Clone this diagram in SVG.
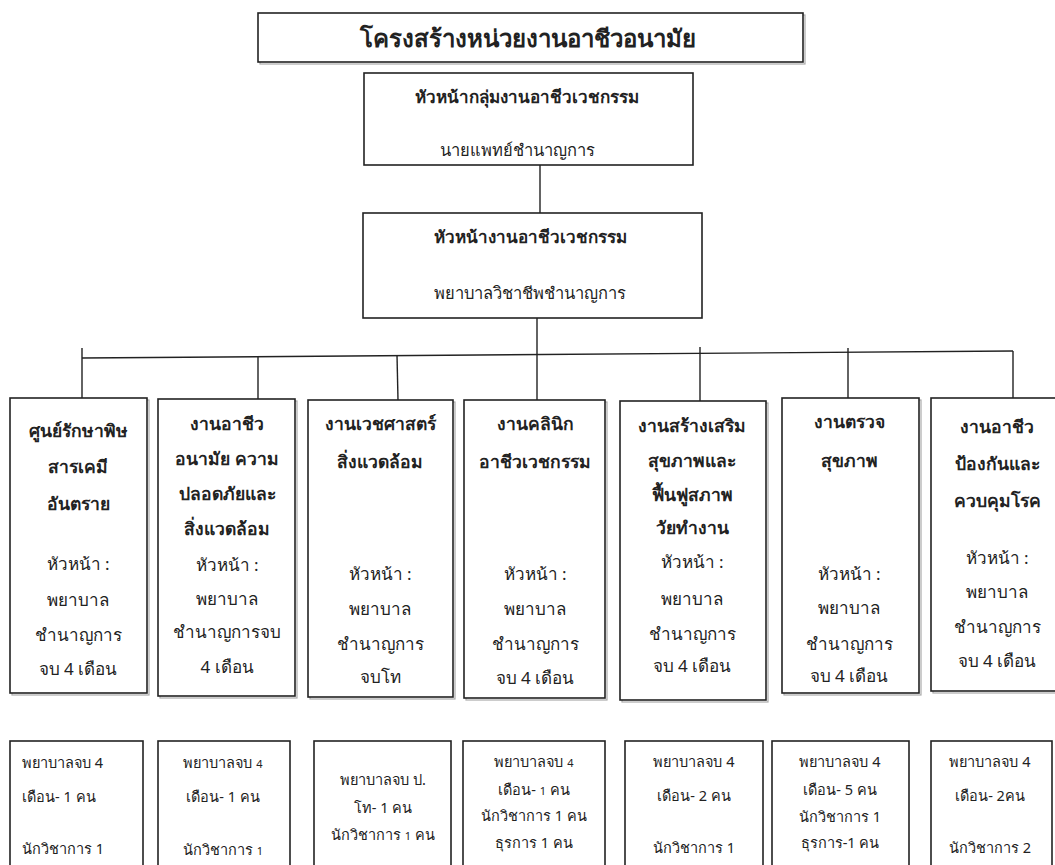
<svg xmlns="http://www.w3.org/2000/svg" width="1055" height="865" viewBox="0 0 1055 865">
<style>
.box{fill:#fff;stroke:#222;stroke-width:1.6}
.sh{fill:none;stroke:#aaa;stroke-width:1.2}
.ln{stroke:#222;stroke-width:1.4;fill:none}
text{font-family:"Noto Sans","DejaVu Sans","Liberation Sans",sans-serif;fill:#222;text-anchor:middle}
.t0{font-size:24px;font-weight:bold}
.hb{font-size:17px;font-weight:bold}
.hn{font-size:16.5px}
.cb{font-size:17.5px;font-weight:bold}
.cn{font-size:17px}
.s{font-size:14.5px}
.l{text-anchor:start}
.sm{font-size:11px}
</style>
<rect width="1055" height="865" fill="#fff"/>
<g id="connectors">
<line class="ln" x1="540" y1="165" x2="540" y2="213"/>
<line class="ln" x1="537" y1="318" x2="537" y2="354"/>
<line class="ln" x1="82" y1="358" x2="1013" y2="351"/>
<line class="ln" x1="82" y1="348" x2="82" y2="398"/>
<line class="ln" x1="258" y1="357" x2="258" y2="399"/>
<line class="ln" x1="397" y1="355" x2="398" y2="400"/>
<line class="ln" x1="537" y1="354" x2="537" y2="400"/>
<line class="ln" x1="700" y1="347" x2="700" y2="401"/>
<line class="ln" x1="848" y1="348" x2="848" y2="398"/>
<line class="ln" x1="1013" y1="351" x2="1013" y2="398"/>
</g>
<g id="title">
<rect class="sh" x="260" y="15" width="545" height="49"/>
<rect class="box" x="258" y="13" width="545" height="49" stroke-width="2"/>
<text class="t0" x="528" y="47">โครงสร้างหน่วยงานอาชีวอนามัย</text>
</g>
<g id="head-group">
<rect class="box" x="364" y="73" width="329" height="92"/>
<text class="hb" x="527" y="103">หัวหน้ากลุ่มงานอาชีวเวชกรรม</text>
<text class="hn" x="517" y="156">นายแพทย์ชำนาญการ</text>
</g>
<g id="head-unit">
<rect class="box" x="363" y="213" width="339" height="105"/>
<text class="hb" x="530" y="243">หัวหน้างานอาชีวเวชกรรม</text>
<text class="hn" x="530" y="299">พยาบาลวิชาชีพชำนาญการ</text>
</g>
<g id="col1">
<rect class="sh" x="12" y="400" width="137" height="295"/>
<rect class="box" x="10" y="398" width="137" height="295"/>
<text class="cb" x="78" y="437">ศูนย์รักษาพิษ</text>
<text class="cb" x="78" y="473">สารเคมี</text>
<text class="cb" x="78" y="510">อันตราย</text>
<text class="cn" x="78" y="570">หัวหน้า :</text>
<text class="cn" x="78" y="606">พยาบาล</text>
<text class="cn" x="78" y="641">ชำนาญการ</text>
<text class="cn" x="78" y="675">จบ 4 เดือน</text>
</g>
<g id="col2">
<rect class="sh" x="160" y="401" width="137" height="297"/>
<rect class="box" x="158" y="399" width="137" height="297"/>
<text class="cb" x="227" y="430">งานอาชีว</text>
<text class="cb" x="227" y="465">อนามัย ความ</text>
<text class="cb" x="227" y="500">ปลอดภัยและ</text>
<text class="cb" x="227" y="535">สิ่งแวดล้อม</text>
<text class="cn" x="227" y="571">หัวหน้า :</text>
<text class="cn" x="227" y="605">พยาบาล</text>
<text class="cn" x="227" y="638">ชำนาญการจบ</text>
<text class="cn" x="227" y="673">4 เดือน</text>
</g>
<g id="col3">
<rect class="sh" x="310" y="402" width="145" height="297"/>
<rect class="box" x="308" y="400" width="145" height="297"/>
<text class="cb" x="380" y="430">งานเวชศาสตร์</text>
<text class="cb" x="380" y="468">สิ่งแวดล้อม</text>
<text class="cn" x="380" y="580">หัวหน้า :</text>
<text class="cn" x="380" y="615">พยาบาล</text>
<text class="cn" x="380" y="650">ชำนาญการ</text>
<text class="cn" x="380" y="683">จบโท</text>
</g>
<g id="col4">
<rect class="sh" x="466" y="402" width="141" height="298"/>
<rect class="box" x="464" y="400" width="141" height="298"/>
<text class="cb" x="535" y="430">งานคลินิก</text>
<text class="cb" x="535" y="468">อาชีวเวชกรรม</text>
<text class="cn" x="535" y="580">หัวหน้า :</text>
<text class="cn" x="535" y="615">พยาบาล</text>
<text class="cn" x="535" y="650">ชำนาญการ</text>
<text class="cn" x="535" y="684">จบ 4 เดือน</text>
</g>
<g id="col5">
<rect class="sh" x="622" y="403" width="146" height="299"/>
<rect class="box" x="620" y="401" width="146" height="299"/>
<text class="cb" x="692" y="432">งานสร้างเสริม</text>
<text class="cb" x="692" y="467">สุขภาพและ</text>
<text class="cb" x="692" y="501">ฟื้นฟูสภาพ</text>
<text class="cb" x="692" y="534">วัยทำงาน</text>
<text class="cn" x="692" y="568">หัวหน้า :</text>
<text class="cn" x="692" y="605">พยาบาล</text>
<text class="cn" x="692" y="640">ชำนาญการ</text>
<text class="cn" x="692" y="672">จบ 4 เดือน</text>
</g>
<g id="col6">
<rect class="sh" x="784" y="400" width="137" height="295"/>
<rect class="box" x="782" y="398" width="137" height="295"/>
<text class="cb" x="849" y="428">งานตรวจ</text>
<text class="cb" x="849" y="467">สุขภาพ</text>
<text class="cn" x="849" y="580">หัวหน้า :</text>
<text class="cn" x="849" y="614">พยาบาล</text>
<text class="cn" x="849" y="650">ชำนาญการ</text>
<text class="cn" x="849" y="682">จบ 4 เดือน</text>
</g>
<g id="col7">
<rect class="sh" x="933" y="400" width="130" height="293"/>
<rect class="box" x="931" y="398" width="130" height="293"/>
<text class="cb" x="997" y="433">งานอาชีว</text>
<text class="cb" x="997" y="470">ป้องกันและ</text>
<text class="cb" x="997" y="507">ควบคุมโรค</text>
<text class="cn" x="997" y="564">หัวหน้า :</text>
<text class="cn" x="997" y="598">พยาบาล</text>
<text class="cn" x="997" y="633">ชำนาญการ</text>
<text class="cn" x="997" y="667">จบ 4 เดือน</text>
</g>
<g id="staff1">
<rect class="box" x="10" y="741" width="133" height="130"/>
<text class="s l" x="22" y="768" font-size="15.5">พยาบาลจบ 4</text>
<text class="s l" x="22" y="802">เดือน- 1 คน</text>
<text class="s l" x="22" y="854">นักวิชาการ 1</text>
</g>
<g id="staff2">
<rect class="box" x="158" y="741" width="132" height="130"/>
<text class="s" x="223" y="768">พยาบาลจบ <tspan class="sm">4</tspan></text>
<text class="s" x="223" y="802">เดือน- 1 คน</text>
<text class="s" x="223" y="855">นักวิชาการ <tspan class="sm">1</tspan></text>
</g>
<g id="staff3">
<rect class="box" x="314" y="741" width="137" height="130"/>
<text class="s" x="383" y="785">พยาบาลจบ ป.</text>
<text class="s" x="383" y="813">โท- 1 คน</text>
<text class="s" x="383" y="840">นักวิชาการ <tspan class="sm">1</tspan> คน</text>
</g>
<g id="staff4">
<rect class="box" x="463" y="741" width="142" height="130"/>
<text class="s" x="534" y="767">พยาบาลจบ <tspan class="sm">4</tspan></text>
<text class="s" x="534" y="795">เดือน- <tspan class="sm">1</tspan> คน</text>
<text class="s" x="534" y="821">นักวิชาการ 1 คน</text>
<text class="s" x="534" y="848">ธุรการ 1 คน</text>
</g>
<g id="staff5">
<rect class="box" x="625" y="741" width="138" height="130"/>
<text class="s" x="694" y="767">พยาบาลจบ 4</text>
<text class="s" x="694" y="801">เดือน- 2 คน</text>
<text class="s" x="694" y="853">นักวิชาการ 1</text>
</g>
<g id="staff6">
<rect class="box" x="772" y="741" width="137" height="130"/>
<text class="s" x="840" y="767">พยาบาลจบ 4</text>
<text class="s" x="840" y="795">เดือน- 5 คน</text>
<text class="s" x="840" y="822">นักวิชาการ 1</text>
<text class="s" x="840" y="848">ธุรการ-1 คน</text>
</g>
<g id="staff7">
<rect class="box" x="931" y="741" width="121" height="130"/>
<text class="s" x="990" y="767">พยาบาลจบ 4</text>
<text class="s" x="990" y="801">เดือน- 2คน</text>
<text class="s" x="990" y="853">นักวิชาการ 2</text>
</g>
</svg>
